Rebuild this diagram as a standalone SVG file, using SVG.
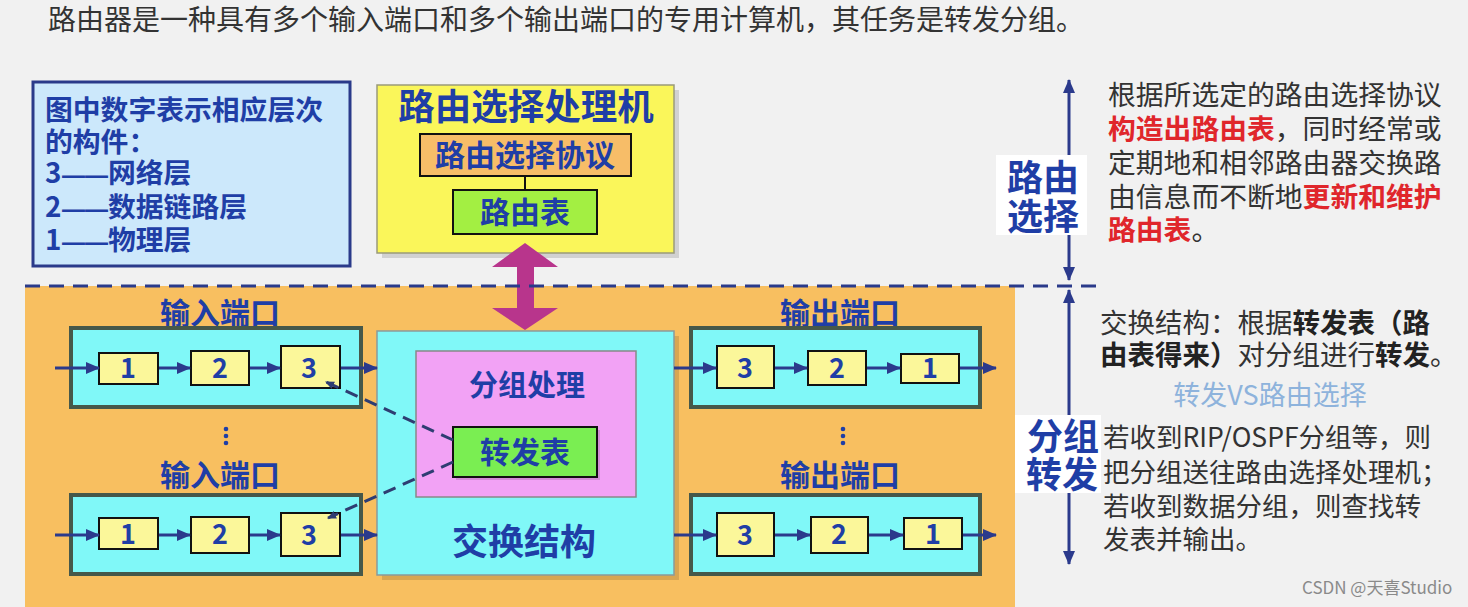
<svg xmlns="http://www.w3.org/2000/svg" width="1468" height="607" viewBox="0 0 1468 607">
<style>
text{font-family:"Noto Sans CJK SC","Liberation Sans",sans-serif}
.b{font-weight:bold;fill:#1f3ea6}
.c{text-anchor:middle}
.g{fill:#333333}
.r{fill:#e0262b;font-weight:bold}
.k{font-weight:bold;fill:#222222}
.port{fill:#80f8f8;stroke:#46584a;stroke-width:4}
.cell{fill:#fbf79a;stroke:#111111;stroke-width:2}
.ar{stroke:#2b3a8c;stroke-width:3;fill:none;marker-end:url(#ah)}
.dash{stroke:#2e3d72;stroke-width:3;fill:none;stroke-dasharray:13 8;marker-end:url(#ahs)}
.sh{fill:#000;opacity:0.13}
.num{font-size:27px}
.em{font-family:"Liberation Sans",sans-serif;font-size:23px}
</style>
<defs>
<marker id="ah" markerUnits="userSpaceOnUse" markerWidth="14" markerHeight="12" viewBox="0 0 14 12" refX="13" refY="6" orient="auto-start-reverse">
<path d="M0,0 L14,6 L0,12 z" fill="#2b3a8c"/>
</marker>
<marker id="ahs" markerUnits="userSpaceOnUse" markerWidth="9" markerHeight="8" viewBox="0 0 9 8" refX="8" refY="4" orient="auto">
<path d="M0,0 L9,4 L0,8 z" fill="#2e3d72"/>
</marker>
</defs>
<rect width="1468" height="607" fill="#f1f1f1"/>
<rect x="25" y="286" width="990" height="321" fill="#f8bf60"/>

<text x="48" y="30" class="g" font-size="28">路由器是一种具有多个输入端口和多个输出端口的专用计算机，其任务是转发分组。</text>

<g id="legend">
<rect x="33" y="82" width="317" height="184" fill="#cce8fb" stroke="#2a3a8a" stroke-width="3"/>
<text class="b" font-size="27.8" x="45" y="120">图中数字表示相应层次</text>
<text class="b" font-size="27.8" x="45" y="152">的构件：</text>
<text class="b" font-size="27.8" x="45" y="183">3<tspan x="62" class="em">——</tspan><tspan x="108">网络层</tspan></text>
<text class="b" font-size="27.8" x="45" y="217">2<tspan x="62" class="em">——</tspan><tspan x="108">数据链路层</tspan></text>
<text class="b" font-size="27.8" x="45" y="250">1<tspan x="62" class="em">——</tspan><tspan x="108">物理层</tspan></text>
</g>

<g id="routing-processor">
<rect x="382" y="90" width="297" height="168" class="sh"/>
<rect x="377" y="85" width="297" height="168" fill="#faf65a" stroke="#9a9a7a" stroke-width="1.5"/>
<text class="b c" font-size="36.5" x="526" y="120">路由选择处理机</text>
</g>
<g id="routing-protocol">
<rect x="420" y="134" width="211" height="42" fill="#f7bd68" stroke="#111" stroke-width="2"/>
<text class="b c" font-size="30" x="525" y="166">路由选择协议</text>
</g>
<g id="routing-table">
<rect x="453" y="190" width="144" height="44" fill="#a3ef42" stroke="#111" stroke-width="2"/>
<text class="b c" font-size="30" x="525" y="223">路由表</text>
</g>

<g id="switch-fabric">
<rect x="382" y="336" width="297" height="244" class="sh"/>
<rect x="377" y="331" width="297" height="244" fill="#80f8f8" stroke="#8a9a9a" stroke-width="1.5"/>
<text class="b c" font-size="36" x="524" y="555">交换结构</text>
</g>
<g id="packet-processing">
<rect x="416" y="351" width="220" height="146" fill="#f2a2f5" stroke="#888" stroke-width="1.5"/>
<text class="b c" font-size="29" x="527" y="396">分组处理</text>
</g>
<g id="forwarding-table">
<rect x="456" y="430" width="144" height="50" class="sh"/>
<rect x="453" y="427" width="144" height="50" fill="#7aee52" stroke="#111" stroke-width="2"/>
<text class="b c" font-size="30" x="525" y="463">转发表</text>
</g>

<g id="input-port-1">
<text class="b c" font-size="30" x="220" y="324">输入端口</text>
<rect x="71" y="328" width="290" height="79" class="port"/>
<rect x="99" y="353" width="59" height="31" class="cell"/>
<text class="b c num" x="128" y="378">1</text>
<rect x="191" y="351" width="58" height="34" class="cell"/>
<text class="b c num" x="220" y="378">2</text>
<rect x="281" y="346" width="59" height="42" class="cell"/>
<text class="b c num" x="309" y="378">3</text>
</g>
<g id="input-port-2">
<text class="b c" font-size="30" x="220" y="486">输入端口</text>
<rect x="71" y="495" width="290" height="79" class="port"/>
<rect x="99" y="518" width="59" height="31" class="cell"/>
<text class="b c num" x="128" y="544">1</text>
<rect x="191" y="517" width="58" height="36" class="cell"/>
<text class="b c num" x="220" y="544">2</text>
<rect x="281" y="513" width="59" height="43" class="cell"/>
<text class="b c num" x="309" y="545">3</text>
</g>
<g id="output-port-1">
<text class="b c" font-size="30" x="840" y="324">输出端口</text>
<rect x="691" y="328" width="289" height="79" class="port"/>
<rect x="717" y="346" width="57" height="42" class="cell"/>
<text class="b c num" x="745" y="378">3</text>
<rect x="808" y="351" width="58" height="34" class="cell"/>
<text class="b c num" x="837" y="378">2</text>
<rect x="901" y="354" width="58" height="29" class="cell"/>
<text class="b c num" x="930" y="378">1</text>
</g>
<g id="output-port-2">
<text class="b c" font-size="30" x="840" y="486">输出端口</text>
<rect x="691" y="495" width="289" height="79" class="port"/>
<rect x="717" y="513" width="57" height="43" class="cell"/>
<text class="b c num" x="745" y="545">3</text>
<rect x="811" y="517" width="57" height="36" class="cell"/>
<text class="b c num" x="839" y="544">2</text>
<rect x="904" y="518" width="58" height="31" class="cell"/>
<text class="b c num" x="933" y="544">1</text>
</g>

<g id="dots" fill="#1f3ea6">
<circle cx="226" cy="429" r="2.3"/><circle cx="226" cy="436" r="2.3"/><circle cx="226" cy="443" r="2.3"/>
<circle cx="843" cy="429" r="2.3"/><circle cx="843" cy="436" r="2.3"/><circle cx="843" cy="443" r="2.3"/>
</g>

<g id="connectors">
<line x1="525" y1="176" x2="525" y2="190" stroke="#111" stroke-width="2"/>
<path d="M525,243 L558,267 L534,267 L534,308 L558,308 L525,330 L492,308 L517,308 L517,267 L492,267 z" fill="#b8358c"/>
<line x1="55" y1="368" x2="99" y2="368" class="ar"/>
<line x1="159" y1="368" x2="190" y2="368" class="ar"/>
<line x1="250" y1="368" x2="280" y2="368" class="ar"/>
<line x1="341" y1="368" x2="377" y2="368" class="ar"/>
<line x1="55" y1="535" x2="99" y2="535" class="ar"/>
<line x1="159" y1="535" x2="190" y2="535" class="ar"/>
<line x1="250" y1="535" x2="280" y2="535" class="ar"/>
<line x1="341" y1="535" x2="377" y2="535" class="ar"/>
<line x1="674" y1="368" x2="716" y2="368" class="ar"/>
<line x1="775" y1="368" x2="807" y2="368" class="ar"/>
<line x1="867" y1="368" x2="900" y2="368" class="ar"/>
<line x1="960" y1="368" x2="996" y2="368" class="ar"/>
<line x1="674" y1="535" x2="716" y2="535" class="ar"/>
<line x1="775" y1="535" x2="810" y2="535" class="ar"/>
<line x1="869" y1="535" x2="903" y2="535" class="ar"/>
<line x1="963" y1="535" x2="996" y2="535" class="ar"/>
<line x1="453" y1="440" x2="326" y2="382" class="dash"/>
<line x1="453" y1="462" x2="328" y2="518" class="dash"/>
<line x1="25" y1="286" x2="1104" y2="286" stroke="#2a3a8a" stroke-width="3" stroke-dasharray="15 9"/>
<line x1="1069" y1="80" x2="1069" y2="280" stroke="#2b3a8c" stroke-width="3" marker-start="url(#ah)" marker-end="url(#ah)"/>
<line x1="1069" y1="290" x2="1069" y2="564" stroke="#2b3a8c" stroke-width="3" marker-start="url(#ah)" marker-end="url(#ah)"/>
</g>

<g id="label-routing">
<rect x="996" y="155" width="91" height="80" fill="#ffffff"/>
<text class="b c" font-size="36" x="1043" y="191" fill="#1a3fb8">路由</text>
<text class="b c" font-size="36" x="1043" y="230" fill="#1a3fb8">选择</text>
</g>
<g id="label-forwarding">
<rect x="1015" y="415" width="86" height="78" fill="#ffffff"/>
<text class="b c" font-size="36" x="1063" y="450">分组</text>
<text class="b c" font-size="36" x="1062" y="488">转发</text>
</g>

<g id="text-routing" font-size="27.8">
<text x="1108" y="105" class="g">根据所选定的路由选择协议</text>
<text x="1108" y="139" class="g"><tspan class="r">构造出路由表</tspan>，同时经常或</text>
<text x="1108" y="173" class="g">定期地和相邻路由器交换路</text>
<text x="1108" y="207" class="g">由信息而不断地<tspan class="r">更新和维护</tspan></text>
<text x="1108" y="240" class="g"><tspan class="r">路由表</tspan>。</text>
</g>
<g id="text-forwarding" font-size="27.5">
<text x="1100" y="333" class="g">交换结构：根据<tspan class="k">转发表（路</tspan></text>
<text x="1100" y="365" class="g"><tspan class="k">由表得来）</tspan>对分组进行<tspan class="k">转发</tspan>。</text>
<text x="1270" y="405" class="c" fill="#8eb3dc" font-size="27">转发VS路由选择</text>
<text x="1103" y="447" class="g" font-size="26.5">若收到RIP/OSPF分组等，则</text>
<text x="1103" y="482" class="g" font-size="26.5">把分组送往路由选择处理机；</text>
<text x="1103" y="516" class="g" font-size="26.5">若收到数据分组，则查找转</text>
<text x="1103" y="549" class="g" font-size="26.5">发表并输出。</text>
</g>
<text x="1302" y="594" font-size="17" fill="#8a8a8a">CSDN @天喜Studio</text>
</svg>
